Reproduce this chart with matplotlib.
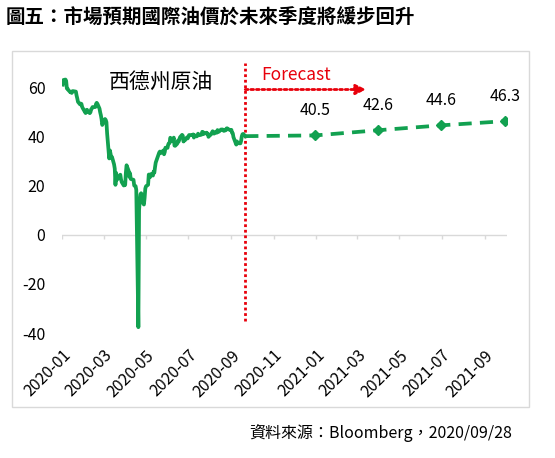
import matplotlib
matplotlib.use("Agg")
import matplotlib.pyplot as plt
import matplotlib.dates as mdates
from matplotlib.patches import Rectangle
import pandas as pd

plt.rcParams['font.family'] = ['Noto Sans CJK TC', 'DejaVu Sans']
plt.rcParams['axes.unicode_minus'] = False

# WTI daily closes, 2020
wti_dates = [
    "2020-01-02", "2020-01-03", "2020-01-06", "2020-01-07", "2020-01-08", "2020-01-09", "2020-01-10",
    "2020-01-13", "2020-01-14", "2020-01-15", "2020-01-16", "2020-01-17", "2020-01-21", "2020-01-22",
    "2020-01-23", "2020-01-24", "2020-01-27", "2020-01-28", "2020-01-29", "2020-01-30", "2020-01-31",
    "2020-02-03", "2020-02-04", "2020-02-05", "2020-02-06", "2020-02-07", "2020-02-10", "2020-02-11",
    "2020-02-12", "2020-02-13", "2020-02-14", "2020-02-18", "2020-02-19", "2020-02-20", "2020-02-21",
    "2020-02-24", "2020-02-25", "2020-02-26", "2020-02-27", "2020-02-28",
    "2020-03-02", "2020-03-03", "2020-03-04", "2020-03-05", "2020-03-06", "2020-03-09", "2020-03-10",
    "2020-03-11", "2020-03-12", "2020-03-13", "2020-03-16", "2020-03-17", "2020-03-18", "2020-03-19",
    "2020-03-20", "2020-03-23", "2020-03-24", "2020-03-25", "2020-03-26", "2020-03-27", "2020-03-30",
    "2020-03-31",
    "2020-04-01", "2020-04-02", "2020-04-03", "2020-04-06", "2020-04-07", "2020-04-08", "2020-04-09",
    "2020-04-13", "2020-04-14", "2020-04-15", "2020-04-16", "2020-04-17", "2020-04-20", "2020-04-21",
    "2020-04-22", "2020-04-23", "2020-04-24", "2020-04-27", "2020-04-28", "2020-04-29", "2020-04-30",
    "2020-05-01", "2020-05-04", "2020-05-05", "2020-05-06", "2020-05-07", "2020-05-08", "2020-05-11",
    "2020-05-12", "2020-05-13", "2020-05-14", "2020-05-15", "2020-05-18", "2020-05-19", "2020-05-20",
    "2020-05-21", "2020-05-22", "2020-05-26", "2020-05-27", "2020-05-28", "2020-05-29",
    "2020-06-01", "2020-06-02", "2020-06-03", "2020-06-04", "2020-06-05", "2020-06-08", "2020-06-09",
    "2020-06-10", "2020-06-11", "2020-06-12", "2020-06-15", "2020-06-16", "2020-06-17", "2020-06-18",
    "2020-06-19", "2020-06-22", "2020-06-23", "2020-06-24", "2020-06-25", "2020-06-26", "2020-06-29",
    "2020-06-30",
    "2020-07-01", "2020-07-02", "2020-07-06", "2020-07-07", "2020-07-08", "2020-07-09", "2020-07-10",
    "2020-07-13", "2020-07-14", "2020-07-15", "2020-07-16", "2020-07-17", "2020-07-20", "2020-07-21",
    "2020-07-22", "2020-07-23", "2020-07-24", "2020-07-27", "2020-07-28", "2020-07-29", "2020-07-30",
    "2020-07-31",
    "2020-08-03", "2020-08-04", "2020-08-05", "2020-08-06", "2020-08-07", "2020-08-10", "2020-08-11",
    "2020-08-12", "2020-08-13", "2020-08-14", "2020-08-17", "2020-08-18", "2020-08-19", "2020-08-20",
    "2020-08-21", "2020-08-24", "2020-08-25", "2020-08-26", "2020-08-27", "2020-08-28", "2020-08-31",
    "2020-09-01", "2020-09-02", "2020-09-03", "2020-09-04", "2020-09-08", "2020-09-09", "2020-09-10",
    "2020-09-11", "2020-09-14", "2020-09-15", "2020-09-16", "2020-09-17", "2020-09-18", "2020-09-21",
]
wti_values = [
    61.18, 63.05, 63.27, 62.70, 59.61, 59.56, 59.04,
    58.08, 58.23, 57.81, 58.52, 58.54, 58.34, 56.74,
    55.59, 54.19, 53.14, 53.48, 53.33, 52.14, 51.56,
    50.11, 49.61, 50.75, 50.95, 50.32, 49.57, 49.94,
    51.17, 51.42, 52.05, 52.05, 53.29, 53.78, 53.38,
    51.43, 49.90, 48.73, 47.09, 44.76,
    46.75, 47.18, 46.78, 45.90, 41.28, 31.13, 34.36,
    32.98, 31.50, 31.73, 28.70, 26.95, 20.37, 25.22,
    22.43, 23.36, 24.01, 24.49, 22.60, 21.51, 20.09,
    20.48,
    20.31, 25.32, 28.34, 26.08, 23.63, 25.09, 22.76,
    22.41, 20.11, 19.87, 19.87, 18.27, -37.63, 10.01,
    13.78, 16.50, 16.94, 12.78, 12.34, 15.06, 18.84,
    19.78, 20.39, 24.56, 23.99, 23.55, 24.74, 24.14,
    25.78, 25.29, 27.56, 29.43, 31.82, 32.50, 33.49,
    33.92, 33.25, 34.35, 32.81, 33.71, 35.49,
    35.44, 36.81, 37.29, 37.41, 39.55, 38.19, 38.94,
    39.60, 36.34, 36.26, 37.12, 38.38, 37.96, 38.84,
    39.75, 40.73, 40.37, 38.01, 38.72, 38.49, 39.70,
    39.27,
    39.82, 40.65, 40.63, 40.62, 40.90, 39.62, 40.55,
    40.10, 40.29, 41.20, 40.75, 40.59, 40.81, 41.96,
    41.90, 41.07, 41.29, 41.60, 41.04, 41.27, 39.92,
    40.27,
    41.01, 41.70, 42.19, 41.95, 41.22, 41.94, 41.61,
    42.67, 42.24, 42.01, 42.89, 42.89, 42.93, 42.82,
    42.34, 42.62, 43.35, 43.39, 43.04, 42.97, 42.61,
    42.76, 41.51, 41.37, 39.77, 36.76, 38.05, 37.30,
    37.33, 37.26, 38.28, 40.16, 40.97, 41.11, 40.20,
]

# Forecast (quarter ends), starting from the last actual close
fc_dates = ["2020-09-21", "2020-12-31", "2021-03-31", "2021-06-30", "2021-09-30"]
fc_values = [40.20, 40.5, 42.6, 44.6, 46.3]

title = "圖五：市場預期國際油價於未來季度將緩步回升"
source = "資料來源：Bloomberg，2020/09/28"

wti_x = pd.to_datetime(wti_dates)
fc_x = pd.to_datetime(fc_dates)
green = "#12A150"
red = "#E8000B"

fig = plt.figure(figsize=(5.55, 4.58), dpi=100)
fig.patches.append(Rectangle((12 / 555, 1 - 407 / 458), 517 / 555, 356 / 458,
                             transform=fig.transFigure, fill=False,
                             edgecolor="#D9D9D9", linewidth=1))
ax = fig.add_axes([62 / 555, 1 - 333 / 458, 445 / 555, 270 / 458])

ax.plot(wti_x, wti_values, color=green, linewidth=2.7, solid_joinstyle="round", zorder=3)
ax.plot(fc_x, fc_values, color=green, linewidth=2.7, linestyle=(0, (3.5, 2.2)), zorder=3)
ax.plot(fc_x[1:], fc_values[1:], linestyle="none", marker="D", markersize=5,
        color=green, zorder=4)
for d, v in zip(fc_x[1:], fc_values[1:]):
    ax.annotate(f"{v:.1f}", (d, v), xytext=(0, 12), textcoords="offset points",
                ha="center", va="bottom", fontsize=11.5)

start = pd.Timestamp("2020-01-01")
end = pd.Timestamp("2021-10-03")
ax.set_xlim(start, end)
ax.set_ylim(-40, 70)

# forecast divider and arrow
cut = fc_x[0]
ax.vlines(cut, -35, 70, colors=red, linestyles=(0, (1, 1)), linewidth=2, zorder=2)
ax.annotate("", xy=(pd.Timestamp("2021-03-14"), 59.2), xytext=(cut, 59.2),
            arrowprops=dict(arrowstyle="-|>,head_length=0.6,head_width=0.3",
                            color=red, linestyle=(0, (1, 1)), linewidth=2,
                            shrinkA=0, shrinkB=0))
ax.text(pd.Timestamp("2020-10-14"), 65, "Forecast", color=red, fontsize=12.5,
        ha="left", va="center")
ax.text(pd.Timestamp("2020-05-23"), 62.5, "西德州原油", fontsize=15,
        ha="center", va="center")

# zero line with tick marks
ticks = pd.date_range("2020-01-01", "2021-09-01", freq="2MS")
ax.axhline(0, color="#D9D9D9", linewidth=1, zorder=1)
ax.vlines(ticks, -1.8, 0, colors="#D9D9D9", linewidth=1, zorder=1)

ax.set_xticks(ticks)
ax.xaxis.set_major_formatter(mdates.DateFormatter("%Y-%m"))
ax.set_yticks([-40, -20, 0, 20, 40, 60])
ax.tick_params(axis="both", length=0, labelsize=11.5)
ax.tick_params(axis="y", pad=12)
ax.tick_params(axis="x", pad=10)
for lbl in ax.get_xticklabels():
    lbl.set_rotation(45)
    lbl.set_ha("right")
    lbl.set_rotation_mode("anchor")
for s in ax.spines.values():
    s.set_visible(False)

fig.text(6 / 555, 1 - 18 / 458, title, fontsize=14, fontweight="bold",
         ha="left", va="center")
fig.text(512 / 555, 1 - 433 / 458, source, fontsize=11.5, ha="right", va="center")

fig.savefig("out.png", dpi=100)
